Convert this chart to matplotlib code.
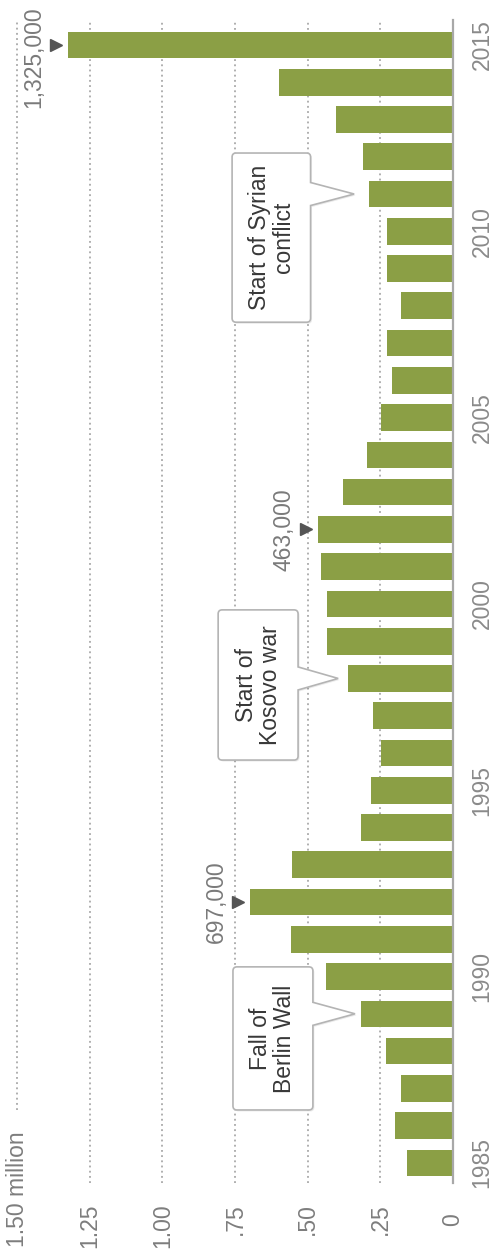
import matplotlib
matplotlib.use("Agg")
import matplotlib.pyplot as plt
from matplotlib.path import Path
from matplotlib.patches import PathPatch
from matplotlib.transforms import IdentityTransform, Affine2D, offset_copy

plt.rcParams['font.family'] = ['Liberation Sans', 'DejaVu Sans']

# Asylum applications per year, in millions
years = list(range(1985, 2016))
applications = [0.159, 0.200, 0.179, 0.232, 0.318, 0.436, 0.557, 0.697, 0.555, 0.318,
                0.282, 0.249, 0.276, 0.360, 0.433, 0.433, 0.455, 0.463, 0.378, 0.295,
                0.247, 0.209, 0.228, 0.180, 0.226, 0.228, 0.290, 0.311, 0.403, 0.597,
                1.325]

value_ticks = [0, 0.25, 0.50, 0.75, 1.00, 1.25, 1.50]
value_tick_labels = ["0", ".25", ".50", ".75", "1.00", "1.25", "1.50 million"]
year_ticks = [1985, 1990, 1995, 2000, 2005, 2010, 2015]

# Highlighted values: (year, label)
peaks = [(1992, "697,000"), (2002, "463,000"), (2015, "1,325,000")]

# Event callouts: text, year pointed at
events = [("Fall of\nBerlin Wall", 1989),
          ("Start of\nKosovo war", 1998),
          ("Start of Syrian\nconflict", 2011)]

GREEN = "#8b9f45"
GRID = "#9a9a9a"
TICK_GRAY = "#7d7d7d"
TEXT_DARK = "#383838"
FS = 16.5

W, H = 491, 1253
fig = plt.figure(figsize=(W / 100, H / 100), dpi=100)
px_left, px_zero = 17, 453
px_top, px_bottom = 20, 1183
ax = fig.add_axes([px_left / W, 1 - px_bottom / H,
                   (px_zero - px_left) / W, (px_bottom - px_top) / H])
ax.set_xlim(1.5, 0)
ax.set_ylim(1984.46, 2015.67)
ax.axis("off")

# Bars (chart is laid out sideways: values grow to the left)
ax.barh(years, applications, height=0.715, color=GREEN, zorder=2)

# Dotted value gridlines and the solid baseline
for v in value_ticks[1:]:
    ymin = 0.063 if v == 1.5 else 0.0
    ax.axvline(v, ymin=ymin, ymax=1, color=GRID, lw=1.1,
               ls=(0, (1.2, 2.2)), zorder=1, clip_on=False)
ax.axvline(0, color="#a8a8a8", lw=1.6, zorder=3, clip_on=False)

# Value tick labels, rotated
xt = ax.get_xaxis_transform()
for v, lab in zip(value_ticks, value_tick_labels):
    if lab == "0":
        ax.text(v, -0.0318, lab, transform=xt, rotation=90, ha="center",
                va="center", fontsize=FS, color=TICK_GRAY)
    elif v == 1.5:
        ax.text(v, -0.055, lab, transform=xt, rotation=90, ha="center",
                va="bottom", fontsize=FS, color=TICK_GRAY)
    else:
        ax.text(v, -0.0172, lab, transform=xt, rotation=90, ha="center",
                va="top", fontsize=FS, color=TICK_GRAY)

# Year labels on the right
yt = ax.get_yaxis_transform()
for yr in year_ticks:
    ax.text(1.0665, yr, str(yr), transform=yt, rotation=90, ha="center",
            va="center", fontsize=FS, color="#8a8a8a")

# Peak markers with value labels
lookup = dict(zip(years, applications))
tri_tr = offset_copy(ax.transData, fig=fig, x=-12, y=0, units="dots")
for yr, lab in peaks:
    v = lookup[yr]
    ax.plot([v], [yr], marker=">", ms=8, color="#555555", transform=tri_tr,
            clip_on=False, zorder=4)
    dy = -12 if yr == 2015 else 0
    txt_tr = offset_copy(ax.transData, fig=fig, x=-34, y=dy, units="dots")
    ax.text(v, yr, lab, transform=txt_tr, rotation=90, ha="center",
            va="center", fontsize=FS, color="#7a7a7a")

# Callout geometry: value at left/right edge of box, year at top/bottom, tip value
callout_boxes = {1989: (0.757, 0.482, 1990.26, 1986.42, 0.337),
                 1998: (0.808, 0.533, 1999.84, 1995.81, 0.395),
                 2011: (0.760, 0.490, 2012.10, 2007.56, 0.340)}


def draw_callout(text, yr):
    vl, vr, ytop, ybot, vtip = callout_boxes[yr]
    T = ax.transData
    xl, yt_d = T.transform((vl, ytop))
    xr, yb_d = T.transform((vr, ybot))
    tx, ty = T.transform((vtip, yr))
    half = 11.5
    r = 4
    verts = [(xl + r, yb_d), (xr - r, yb_d), (xr, yb_d), (xr, yb_d + r),
             (xr, ty - half), (tx, ty), (xr, ty + half),
             (xr, yt_d - r), (xr, yt_d), (xr - r, yt_d),
             (xl + r, yt_d), (xl, yt_d), (xl, yt_d - r),
             (xl, yb_d + r), (xl, yb_d), (xl + r, yb_d), (xl + r, yb_d)]
    codes = [Path.MOVETO, Path.LINETO, Path.CURVE3, Path.CURVE3,
             Path.LINETO, Path.LINETO, Path.LINETO,
             Path.LINETO, Path.CURVE3, Path.CURVE3,
             Path.LINETO, Path.CURVE3, Path.CURVE3,
             Path.LINETO, Path.CURVE3, Path.CURVE3, Path.CLOSEPOLY]
    path = Path(verts, codes)
    shadow = PathPatch(path.transformed(Affine2D().translate(1.5, -1.5)),
                       facecolor="#00000014", edgecolor="none",
                       transform=IdentityTransform(), zorder=5, clip_on=False)
    ax.add_patch(shadow)
    box = PathPatch(path, facecolor="white", edgecolor="#b4b4b4", lw=1.2,
                    transform=IdentityTransform(), zorder=6, clip_on=False)
    ax.add_patch(box)
    cx, cy = (vl + vr) / 2, (ytop + ybot) / 2
    ax.text(cx, cy, text, rotation=90, ha="center", va="center",
            multialignment="center", fontsize=FS, color=TEXT_DARK,
            linespacing=1.05, zorder=7)


for text, yr in events:
    draw_callout(text, yr)

fig.savefig("out.png", dpi=100)
